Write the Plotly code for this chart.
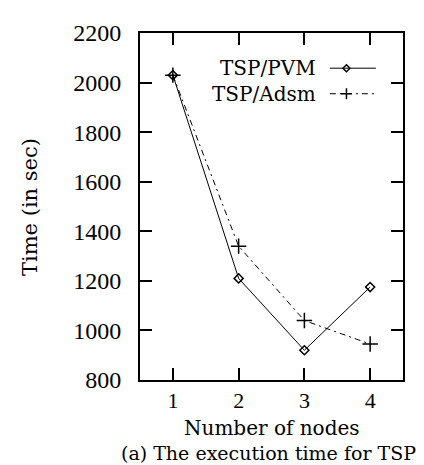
import plotly.graph_objects as go

nodes = [1, 2, 3, 4]
pvm_time = [2030, 1210, 920, 1175]
adsm_time = [2030, 1340, 1040, 945]
y_ticks = [800, 1000, 1200, 1400, 1600, 1800, 2000, 2200]
series_names = ["TSP/PVM", "TSP/Adsm"]
x_title = "Number of nodes"
y_title = "Time (in sec)"
caption = "(a) The execution time for TSP"

TICKFONT = "Liberation Serif"
TEXTFONT = "DejaVu Serif"
DASHDOT = "6px,4px,2px,4px"

fig = go.Figure()
fig.add_trace(go.Scatter(
    x=nodes, y=pvm_time, mode="lines+markers", name=series_names[0],
    line=dict(color="black", width=1),
    marker=dict(symbol="diamond-open", size=7, color="black", line=dict(width=1.5, color="black")),
    showlegend=False,
))
fig.add_trace(go.Scatter(
    x=nodes, y=adsm_time, mode="lines+markers", name=series_names[1],
    line=dict(color="black", width=1, dash=DASHDOT),
    marker=dict(symbol="cross-thin-open", size=11, color="black", line=dict(width=1.5, color="black")),
    showlegend=False,
))

# gnuplot-style key: text right-aligned, sample line (with marker) to the right
marker_paths = ["M -3.5,0 L 0,3.5 L 3.5,0 L 0,-3.5 Z", "M -5.5,0 L 5.5,0 M 0,-5.5 L 0,5.5"]
rows = [(0.8986, "solid"), (0.825, DASHDOT)]
for (yp, dash), name, mpath in zip(rows, series_names, marker_paths):
    fig.add_annotation(x=0.677, y=yp, xref="paper", yref="paper", text=name,
                       showarrow=False, xanchor="right", yanchor="middle",
                       font=dict(family=TEXTFONT, size=20, color="black"))
    fig.add_shape(type="line", xref="paper", yref="paper", x0=0.722, x1=0.897,
                  y0=yp, y1=yp, line=dict(color="black", width=1, dash=dash))
    fig.add_shape(type="path", xref="paper", yref="paper",
                  xsizemode="pixel", ysizemode="pixel", xanchor=0.785, yanchor=yp,
                  path=mpath, line=dict(color="black", width=1.5))

fig.add_annotation(x=0.5, y=-0.137, xref="paper", yref="paper", text=x_title,
                   showarrow=False, xanchor="center", yanchor="middle",
                   font=dict(family=TEXTFONT, size=20, color="black"))
fig.add_annotation(x=0.487, y=-0.21, xref="paper", yref="paper", text=caption,
                   showarrow=False, xanchor="center", yanchor="middle",
                   font=dict(family=TEXTFONT, size=19, color="black"))
fig.add_annotation(x=-0.418, y=0.4986, xref="paper", yref="paper", text=y_title,
                   showarrow=False, xanchor="center", yanchor="middle", textangle=-90,
                   font=dict(family=TEXTFONT, size=21, color="black"))

fig.update_layout(
    width=424, height=465,
    margin=dict(l=132, r=29, t=17, b=93),
    paper_bgcolor="white", plot_bgcolor="white",
    font=dict(family=TICKFONT, size=24, color="black"),
    showlegend=False,
)
fig.update_xaxes(
    range=[0.5, 4.5], tickvals=nodes, ticktext=[str(n) for n in nodes],
    showgrid=False, zeroline=False, showline=True, linecolor="black", linewidth=2,
    mirror="allticks", ticks="inside", ticklen=12, tickwidth=2, tickcolor="black",
    ticklabelstandoff=0,
    tickfont=dict(family=TICKFONT, size=22),
)
fig.update_yaxes(
    range=[800, 2200], tickvals=y_ticks, ticktext=[str(v) for v in y_ticks],
    showgrid=False, zeroline=False, showline=True, linecolor="black", linewidth=2,
    mirror="allticks", ticks="inside", ticklen=12, tickwidth=2, tickcolor="black",
    ticklabelstandoff=12,
    tickfont=dict(family=TICKFONT, size=24),
)

fig.write_html("out.html")
